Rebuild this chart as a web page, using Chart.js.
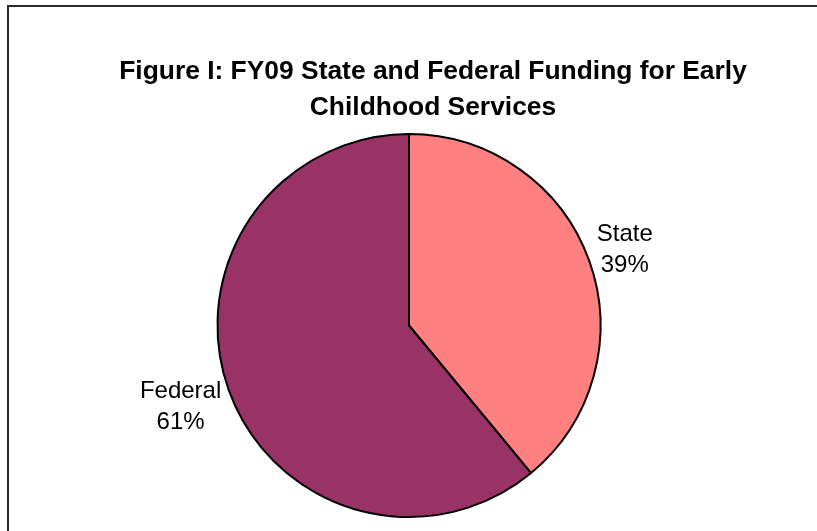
<!DOCTYPE html>
<html>
<head>
<meta charset="utf-8">
<script src="https://cdn.jsdelivr.net/npm/chart.js@4.4.1/dist/chart.umd.min.js"></script>
<style>
  html, body { margin: 0; padding: 0; background: #fff; overflow: hidden; }
  #wrap { position: relative; width: 817px; height: 531px; }
  #frame {
    position: absolute; left: 7px; top: 5px; right: -20px; bottom: -20px;
    border-top: 2px solid #2b2b2b; border-left: 2px solid #2b2b2b;
  }
  #chartCanvas { position: absolute; left: 0; top: 0; }
</style>
</head>
<body>
<div id="wrap">
  <div id="frame"></div>
  <canvas id="chartCanvas" width="817" height="531"></canvas>
</div>
<script>
const titleLines = ["Figure I: FY09 State and Federal Funding for Early", "Childhood Services"];
const categories = ["State", "Federal"];
const shares = [39, 61];
const sliceColors = ["#FF8080", "#993366"];

const FONT = "'Liberation Sans', Arial, sans-serif";

// two-line bold heading, drawn a little right of the pie like the original sheet
const headingPlugin = {
    id: "heading",
    afterDraw(chart) {
        const ctx = chart.ctx;
        ctx.save();
        ctx.font = "bold 26.4px " + FONT;
        ctx.fillStyle = "#000";
        ctx.textAlign = "center";
        ctx.textBaseline = "alphabetic";
        titleLines.forEach((line, i) => ctx.fillText(line, 433, 79 + i * 36));
        ctx.restore();
    },
};

// category name + percent outside each slice, box pushed clear of the rim
const outsideLabels = {
    id: "outsideLabels",
    afterDatasetsDraw(chart) {
        const ctx = chart.ctx;
        const meta = chart.getDatasetMeta(0);
        ctx.save();
        ctx.font = "24px " + FONT;
        ctx.fillStyle = "#000";
        ctx.textAlign = "center";
        ctx.textBaseline = "middle";
        meta.data.forEach((arc, i) => {
            const { x, y, startAngle, endAngle, outerRadius } = arc.getProps(
                ["x", "y", "startAngle", "endAngle", "outerRadius"], true);
            const mid = (startAngle + endAngle) / 2;
            const lines = [categories[i], shares[i] + "%"];
            const halfW = Math.max(...lines.map(t => ctx.measureText(t).width)) / 2;
            const lx = x + Math.cos(mid) * (outerRadius + 8) + Math.sign(Math.cos(mid)) * halfW;
            const ly = y + Math.sin(mid) * outerRadius * 1.21 + 3;
            ctx.fillText(lines[0], lx, ly - 15.5);
            ctx.fillText(lines[1], lx, ly + 15.5);
        });
        ctx.restore();
    },
};

const ctx = document.getElementById("chartCanvas").getContext("2d");
new Chart(ctx, {
    type: "pie",
    data: {
        labels: categories,
        datasets: [{
            data: shares,
            backgroundColor: sliceColors,
            borderColor: "#000",
            borderWidth: 2,
        }],
    },
    options: {
        responsive: false,
        animation: false,
        events: [],
        layout: { padding: { top: 133, bottom: 13, left: 120, right: 119 } },
        plugins: {
            legend: { display: false },
            title: { display: false },
            tooltip: { enabled: false },
        },
    },
    plugins: [headingPlugin, outsideLabels],
});
</script>
</body>
</html>
